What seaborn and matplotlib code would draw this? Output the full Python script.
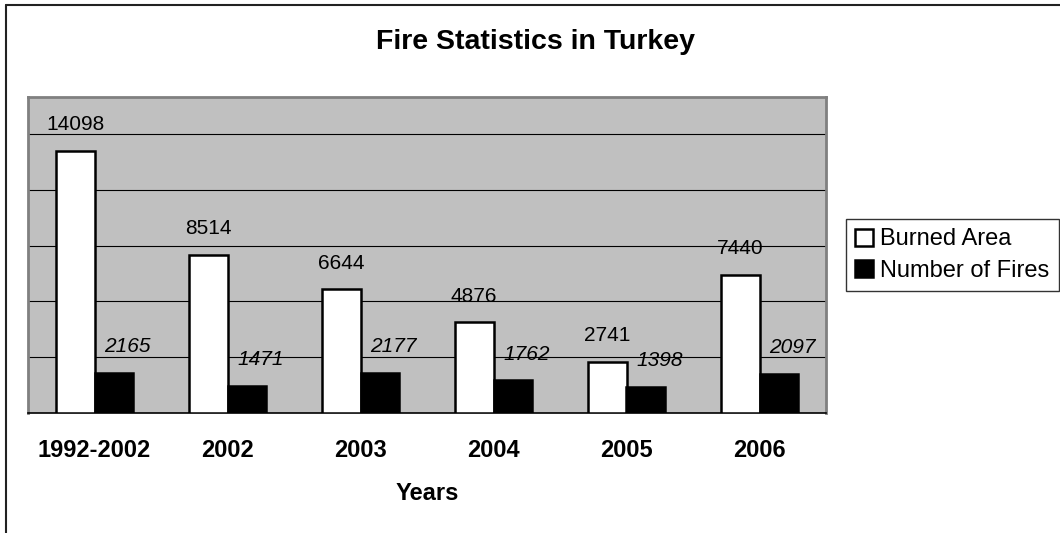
import numpy as np
import pandas as pd
import matplotlib
matplotlib.use("Agg")
import matplotlib.pyplot as plt
from matplotlib.lines import Line2D
import seaborn as sns

# Data
years = ["1992-2002", "2002", "2003", "2004", "2005", "2006"]
burned_area = [14098, 8514, 6644, 4876, 2741, 7440]
number_of_fires = [2165, 1471, 2177, 1762, 1398, 2097]
series_names = ["Burned Area", "Number of Fires"]

df = pd.DataFrame({
    "Year": years * 2,
    "Value": burned_area + number_of_fires,
    "Series": [series_names[0]] * len(years) + [series_names[1]] * len(years),
})

sns.set_theme(style="white")
plt.rcParams["font.family"] = ["Liberation Sans", "DejaVu Sans"]
plt.rcParams["text.color"] = "black"
plt.rcParams["axes.labelcolor"] = "black"
plt.rcParams["xtick.color"] = "black"
plt.rcParams["ytick.color"] = "black"

W, H = 1060, 533
fig = plt.figure(figsize=(W / 100, H / 100), dpi=100)
ax = fig.add_axes([28 / W, 1 - 413 / H, (826 - 28) / W, (413 - 97) / H])
ax.set_facecolor("#c0c0c0")

sns.barplot(
    data=df, x="Year", y="Value", hue="Series", order=years,
    hue_order=series_names, palette=["white", "black"],
    edgecolor="black", linewidth=1.8, width=0.58, gap=0,
    saturation=1, ax=ax, zorder=3,
)

ax.set_ylim(0, 17000)
ax.set_xlim(-0.5, len(years) - 0.5)
ax.set_yticks(np.arange(3000, 16000, 3000))
ax.set_yticklabels([])
ax.tick_params(axis="y", length=0)
ax.grid(axis="y", color="black", linewidth=0.8, zorder=1)
ax.set_axisbelow(True)

# category boundary ticks
ax.set_xticks(np.arange(-0.5, len(years), 1), minor=True)
ax.tick_params(axis="x", which="minor", length=6, width=1, color="black", direction="out")
ax.tick_params(axis="x", which="major", length=0, pad=19, labelsize=17, labelcolor="black")
for lbl in ax.get_xticklabels():
    lbl.set_fontweight("bold")

for side in ["top", "left", "right"]:
    ax.spines[side].set_color("#808080")
    ax.spines[side].set_linewidth(2)
ax.spines["bottom"].set_color("black")
ax.spines["bottom"].set_linewidth(1.2)

ax.set_ylabel("")
ax.set_xlabel("Years", fontsize=17, fontweight="bold", labelpad=14, color="black")

# value labels
ax.bar_label(ax.containers[0], fontsize=15, padding=12, color="black")
for p in ax.containers[1].patches:
    ax.annotate(
        f"{int(round(p.get_height()))}",
        (p.get_x() + p.get_width() / 2, p.get_height()),
        xytext=(10, 12), textcoords="offset points",
        ha="center", va="bottom", fontsize=15, style="italic", color="black",
    )

# legend
handles, labels = ax.get_legend_handles_labels()
ax.legend(
    handles, labels, loc="upper left",
    bbox_to_anchor=(846 / W, 1 - 219 / H), bbox_transform=fig.transFigure,
    fontsize=17, frameon=True, fancybox=False, edgecolor="black",
    handlelength=0.75, handleheight=0.75, handletextpad=0.3,
    borderpad=0.4, labelspacing=0.4, borderaxespad=0,
)
ax.get_legend().get_frame().set_linewidth(1)
for t in ax.get_legend().get_texts():
    t.set_color("black")

fig.suptitle("Fire Statistics in Turkey", fontsize=20.5, fontweight="bold",
             x=536 / W, y=1 - 42 / H, va="center", color="black")

# outer chart frame
fig.add_artist(Line2D([6 / W, 6 / W], [0, 1 - 5 / H], color="#222222", linewidth=1.5,
                      transform=fig.transFigure))
fig.add_artist(Line2D([6 / W, 1], [1 - 5 / H, 1 - 5 / H], color="#222222", linewidth=1.5,
                      transform=fig.transFigure))

fig.savefig("out.png", dpi=100, facecolor="white")
